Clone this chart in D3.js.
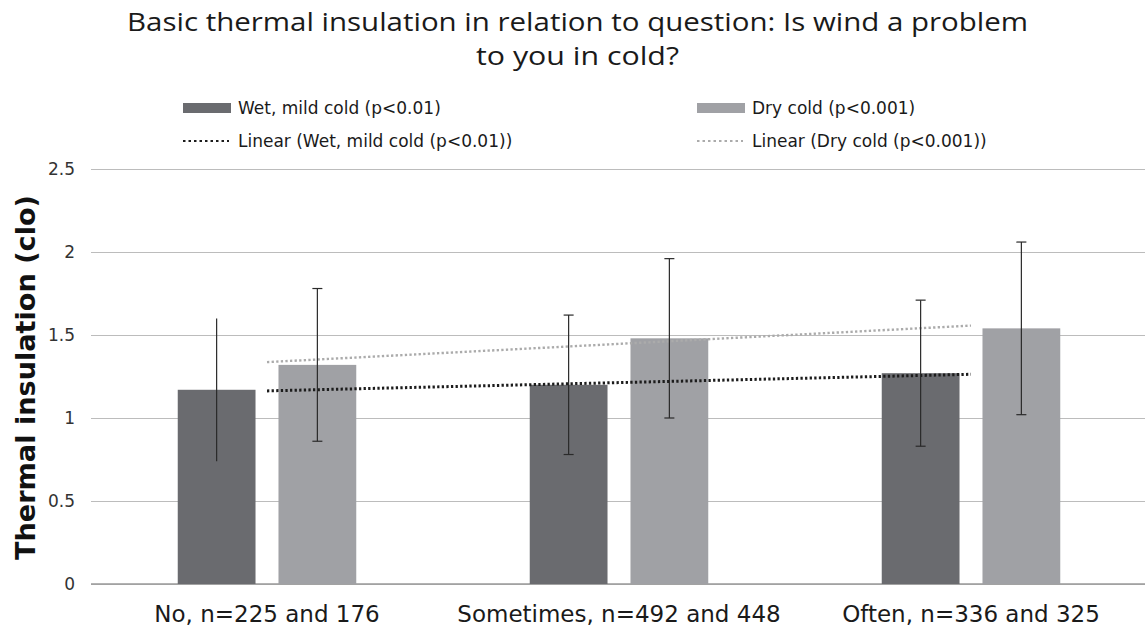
<!DOCTYPE html>
<html>
<head>
<meta charset="utf-8">
<script src="https://cdn.jsdelivr.net/npm/d3@7"></script>
<style>
  body { margin: 0; background: #fff; }
  svg { display: block; font-family: Verdana, "DejaVu Sans", sans-serif; }
  .grid line { stroke: #bcbcbc; stroke-width: 1.2; }
  .grid path { display: none; }
</style>
</head>
<body>
<div id="chart"></div>
<script>
"use strict";

// Data
var categories = ["No, n=225 and 176", "Sometimes, n=492 and 448", "Often, n=336 and 325"];
var seriesNames = ["Wet, mild cold (p<0.01)", "Dry cold (p<0.001)"];
var wetValues = [1.17, 1.20, 1.27];
var dryValues = [1.32, 1.48, 1.54];
var wetLow = [0.74, 0.78, 0.83];
var wetHigh = [1.60, 1.62, 1.71];
var dryLow = [0.86, 1.00, 1.02];
var dryHigh = [1.78, 1.96, 2.06];
var yTicks = [0, 0.5, 1, 1.5, 2, 2.5];
var titleLines = ["Basic thermal insulation in relation to question: Is wind a problem", "to you in cold?"];
var yTitle = "Thermal insulation (clo)";

var width = 1145, height = 631,
    margin = {top: 169, right: -2, bottom: 47, left: 91},
    innerH = height - margin.top - margin.bottom,
    colors = ["#6a6b6f", "#a0a1a5"],
    trendColors = ["#1c1c1c", "#ababab"];

var svg = d3.select("#chart").append("svg")
    .attr("width", width)
    .attr("height", height);

var x0 = d3.scaleBand()
    .domain(categories)
    .range([margin.left, width - margin.right])
    .padding(0);

var x1 = d3.scaleBand()
    .domain(seriesNames)
    .range([0, x0.bandwidth()])
    .paddingInner(0.228)
    .paddingOuter(0.861);

var y = d3.scaleLinear()
    .domain([0, 2.5])
    .range([margin.top + innerH, margin.top]);

// Grid lines
svg.append("g")
    .attr("class", "grid")
    .attr("transform", "translate(" + margin.left + ",0)")
    .call(d3.axisLeft(y).tickValues(yTicks).tickSize(-(width - margin.left - margin.right)).tickFormat(""));

svg.append("line")
    .attr("x1", margin.left).attr("x2", width)
    .attr("y1", y(0)).attr("y2", y(0))
    .attr("stroke", "#9a9a9a").attr("stroke-width", 1.3);

// Y tick labels
svg.append("g").selectAll("text")
    .data(yTicks)
    .enter().append("text")
    .attr("x", 75)
    .attr("y", function(d) { return y(d); })
    .attr("dy", "0.35em")
    .attr("text-anchor", "end")
    .attr("font-size", 17)
    .attr("fill", "#333")
    .text(function(d) { return d; });

// Y axis title
svg.append("text")
    .attr("transform", "translate(35," + 377.5 + ") rotate(-90)")
    .attr("text-anchor", "middle")
    .attr("font-size", 27)
    .attr("font-weight", "bold")
    .attr("textLength", 365)
    .attr("lengthAdjust", "spacingAndGlyphs")
    .attr("fill", "#111")
    .text(yTitle);

// Bars
var series = [
    {name: seriesNames[0], values: wetValues, low: wetLow, high: wetHigh, color: colors[0]},
    {name: seriesNames[1], values: dryValues, low: dryLow, high: dryHigh, color: colors[1]}
];

series.forEach(function(s) {
    var g = svg.append("g");
    g.selectAll("rect")
        .data(categories)
        .enter().append("rect")
        .attr("x", function(c) { return x0(c) + x1(s.name); })
        .attr("width", x1.bandwidth())
        .attr("y", function(c, i) { return y(s.values[i]); })
        .attr("height", function(c, i) { return y(0) - y(s.values[i]); })
        .attr("fill", s.color);
});

// Trend lines (least squares over category index 1..n)
function linearFit(vals) {
    var xs = vals.map(function(d, i) { return i + 1; }),
        mx = d3.mean(xs), my = d3.mean(vals),
        num = d3.sum(xs, function(xv, i) { return (xv - mx) * (vals[i] - my); }),
        den = d3.sum(xs, function(xv) { return (xv - mx) * (xv - mx); }),
        slope = num / den;
    return xs.map(function(xv) { return my + slope * (xv - mx); });
}

var line = d3.line()
    .x(function(d) { return x0(d.c) + x0.bandwidth() / 2; })
    .y(function(d) { return y(d.v); });

series.forEach(function(s, si) {
    var fit = linearFit(s.values);
    svg.append("path")
        .datum(categories.map(function(c, i) { return {c: c, v: fit[i]}; }))
        .attr("d", line)
        .attr("fill", "none")
        .attr("stroke", trendColors[si])
        .attr("stroke-width", si === 0 ? 3 : 2.4)
        .attr("stroke-dasharray", "2.3 2.3");
});

// Error bars (the first wet bar is drawn without caps in the original)
series.forEach(function(s, si) {
    var g = svg.append("g").attr("stroke", "#2a2a2a").attr("stroke-width", 1.2);
    categories.forEach(function(c, i) {
        var cx = x0(c) + x1(s.name) + x1.bandwidth() / 2;
        g.append("line").attr("x1", cx).attr("x2", cx)
            .attr("y1", y(s.low[i])).attr("y2", y(s.high[i]));
        if (si === 0 && i === 0) { return; }
        [s.low[i], s.high[i]].forEach(function(v) {
            g.append("line").attr("x1", cx - 5).attr("x2", cx + 5)
                .attr("y1", y(v)).attr("y2", y(v));
        });
    });
});

// X labels
svg.append("g").selectAll("text")
    .data(categories)
    .enter().append("text")
    .attr("x", function(c) { return x0(c) + x0.bandwidth() / 2; })
    .attr("y", 622)
    .attr("text-anchor", "middle")
    .attr("font-size", 23)
    .attr("fill", "#1a1a1a")
    .text(function(d) { return d; });

// Title
var titleWidths = [901, 203];
svg.append("g").selectAll("text")
    .data(titleLines)
    .enter().append("text")
    .attr("x", 577.5)
    .attr("y", function(d, i) { return 31 + i * 34; })
    .attr("text-anchor", "middle")
    .attr("font-family", "'Open Sans', sans-serif")
    .attr("font-size", 25)
    .attr("textLength", function(d, i) { return titleWidths[i]; })
    .attr("lengthAdjust", "spacingAndGlyphs")
    .attr("fill", "#1a1a1a")
    .text(function(d) { return d; });

// Legend
var legendItems = [
    {label: seriesNames[0], type: "bar", color: colors[0], x: 183, y: 108},
    {label: seriesNames[1], type: "bar", color: colors[1], x: 697, y: 108},
    {label: "Linear (" + seriesNames[0] + ")", type: "line", color: trendColors[0], x: 183, y: 141},
    {label: "Linear (" + seriesNames[1] + ")", type: "line", color: trendColors[1], x: 697, y: 141}
];

var lg = svg.append("g").selectAll("g")
    .data(legendItems)
    .enter().append("g")
    .attr("transform", function(d) { return "translate(" + d.x + "," + d.y + ")"; });

lg.filter(function(d) { return d.type === "bar"; })
    .append("rect")
    .attr("x", 0).attr("y", -5)
    .attr("width", 48).attr("height", 10)
    .attr("fill", function(d) { return d.color; });

lg.filter(function(d) { return d.type === "line"; })
    .append("line")
    .attr("x1", 0).attr("x2", 46)
    .attr("stroke", function(d) { return d.color; })
    .attr("stroke-width", 2)
    .attr("stroke-dasharray", "2.5 3");

lg.append("text")
    .attr("x", 55)
    .attr("dy", "0.35em")
    .attr("font-size", 17)
    .attr("fill", "#1a1a1a")
    .text(function(d) { return d.label; });
</script>
</body>
</html>
